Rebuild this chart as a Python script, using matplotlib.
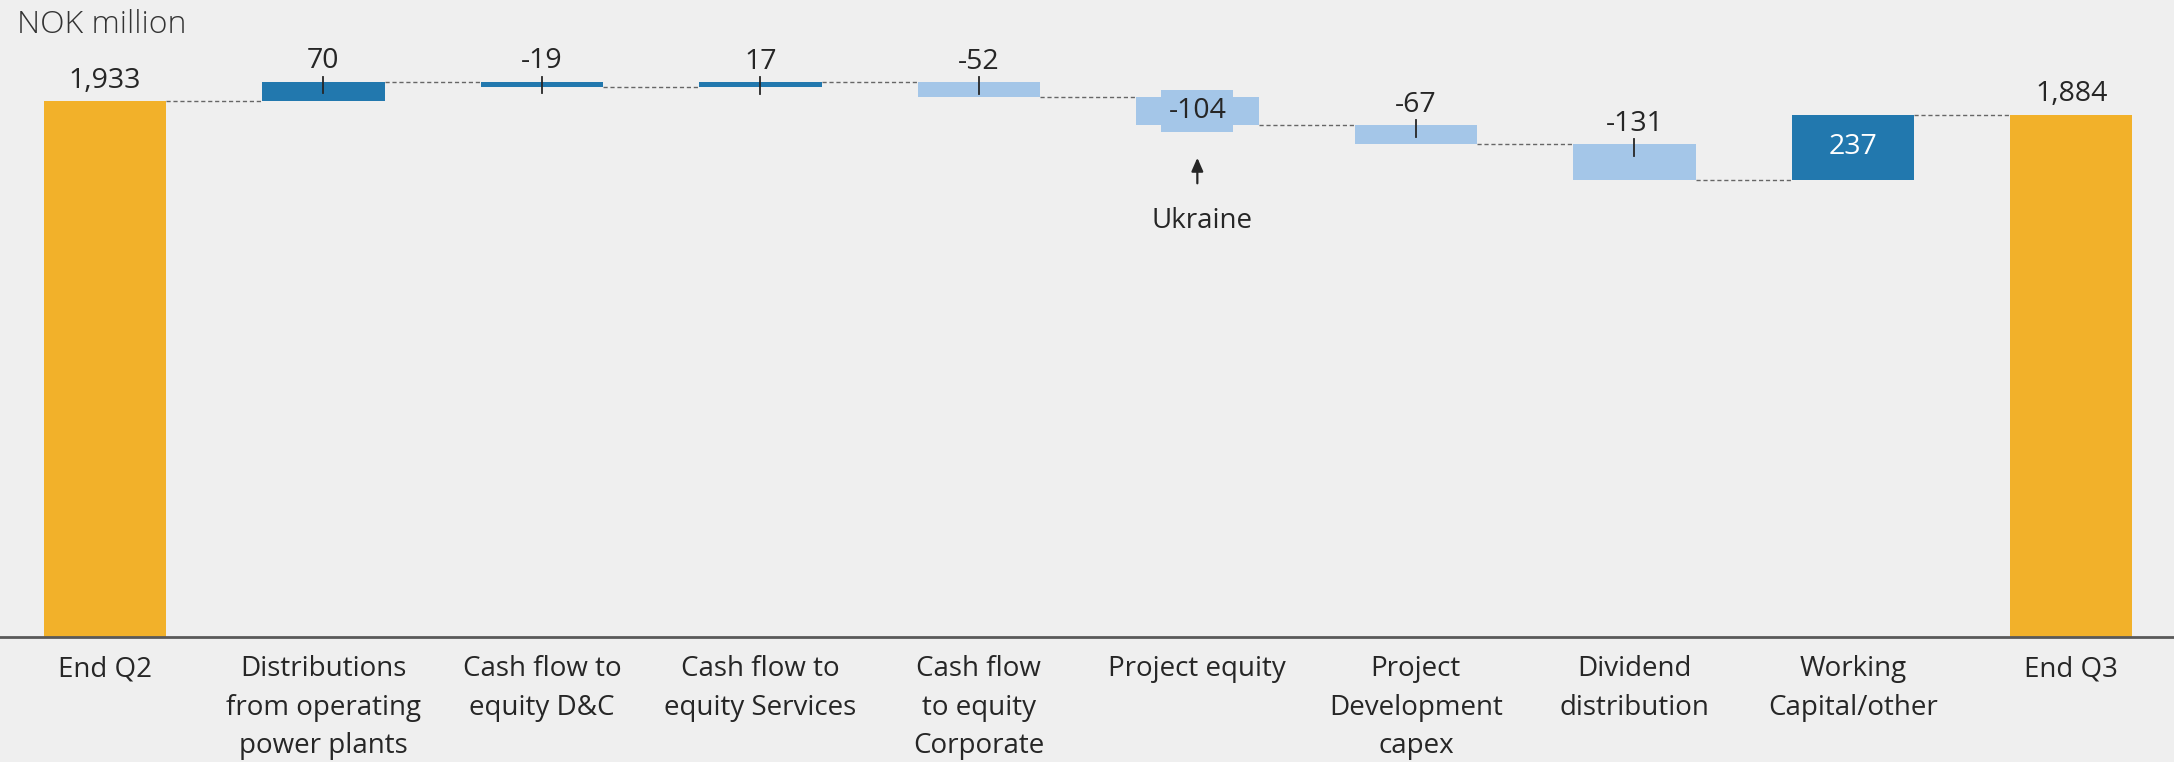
import numpy as np
import matplotlib
matplotlib.use('Agg')
import matplotlib.pyplot as plt

plt.rcParams['font.family'] = ['Open Sans', 'DejaVu Sans']

# 01 Data
Categories = ['End Q2', 'Distributions\nfrom operating\npower plants', 'Cash flow to\nequity D&C',
              'Cash flow to\nequity Services', 'Cash flow\nto equity\nCorporate', 'Project equity',
              'Project\nDevelopment\ncapex', 'Dividend\ndistribution', 'Working\nCapital/other', 'End Q3']
StartValue = 1933
EndValue = 1884
Changes = [70, -19, 17, -52, -104, -67, -131, 237]

# 02 Styles
Background = '#EFEFEF'
TextColor = '#262626'
Orange = '#F2B12A'
DarkBlue = '#2278AE'
LightBlue = '#A4C6E8'
ChangeColors = [DarkBlue, DarkBlue, DarkBlue, LightBlue, LightBlue, LightBlue, LightBlue, DarkBlue]
LabelStyle = ['above', 'above', 'above', 'above', 'box', 'above', 'above', 'white']
Width = 0.56

Levels = np.concatenate([[StartValue], StartValue + np.cumsum(Changes)])

Figure = plt.figure(figsize=(21.74, 7.62), dpi=100, facecolor=Background)
Axes = Figure.add_axes([0, 1 - 637 / 762, 1, 637 / 762])
Axes.set_facecolor(Background)
Axes.set_xlim(-0.48, 9.47)
Axes.set_ylim(0, 2297)

# Totals
for i, Value in [(0, StartValue), (9, EndValue)]:
    Axes.bar(i, Value, width=Width, color=Orange, zorder=2)
    Axes.text(i, Value + 47, f'{Value:,}', ha='center', va='baseline', fontsize=20.5, color=TextColor)

# Changes
for j, Change in enumerate(Changes):
    x = j + 1
    Previous, Current = Levels[j], Levels[j + 1]
    Bottom = min(Previous, Current)
    Top = max(Previous, Current)
    Axes.bar(x, abs(Change), bottom=Bottom, width=Width, color=ChangeColors[j], zorder=2)
    if LabelStyle[j] == 'above':
        Axes.plot([x, x], [Top + 18, Top - 42], color=TextColor, lw=1.3, zorder=3)
        Axes.text(x, Top + 47, str(Change), ha='center', va='baseline', fontsize=20.5, color=TextColor)
    elif LabelStyle[j] == 'box':
        Axes.text(x, (Top + Bottom) / 2, str(Change), ha='center', va='center', fontsize=20.5, color=TextColor,
                  bbox=dict(boxstyle='square,pad=0.25', facecolor=LightBlue, edgecolor='none'), zorder=3)
    else:
        Axes.text(x, (Top + Bottom) / 2, str(Change), ha='center', va='center', fontsize=20.5, color='white', zorder=3)

# Connectors between bars
for i in range(9):
    Axes.plot([i + Width / 2, i + 1 - Width / 2], [Levels[i], Levels[i]],
              linestyle=(0, (3, 2)), color='#666666', lw=1.0, zorder=1)

# Ukraine note
Axes.annotate('', xy=(5, 1738), xytext=(5, 1626),
              arrowprops=dict(arrowstyle='-|>,head_length=0.8,head_width=0.35', color=TextColor, lw=1.6))
Axes.text(5.02, 1475, 'Ukraine', ha='center', va='baseline', fontsize=20, color=TextColor)

Axes.set_xticks(range(len(Categories)))
Axes.set_xticklabels(Categories, fontsize=20, color=TextColor, linespacing=1.5)
Axes.tick_params(axis='x', length=0, pad=13)
Axes.set_yticks([])
for Side in ['top', 'left', 'right']:
    Axes.spines[Side].set_visible(False)
Axes.spines['bottom'].set_color('#595959')
Axes.spines['bottom'].set_linewidth(2)

Figure.text(17 / 2174, 1 - 33 / 762, 'NOK million', ha='left', va='baseline', fontsize=23,
            fontweight='light', color='#333333')

plt.savefig('out.png', dpi=100, facecolor=Background)
plt.close(Figure)
